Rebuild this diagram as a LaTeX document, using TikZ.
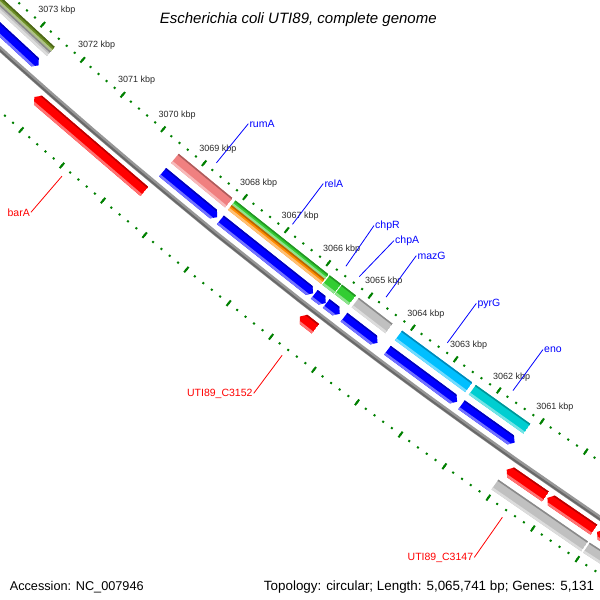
\documentclass[tikz,border=0pt]{standalone}
\usepackage{fontspec}
\setmainfont{Liberation Sans}
\definecolor{tickgreen}{RGB}{0,128,0}
\definecolor{cdsblue}{RGB}{0,0,255}
\definecolor{cdsred}{RGB}{255,0,0}
\definecolor{cogolive}{RGB}{107,142,35}
\definecolor{coggray}{RGB}{192,192,192}
\definecolor{cogpink}{RGB}{240,128,128}
\definecolor{coggreen}{RGB}{50,205,50}
\definecolor{cogorange}{RGB}{255,140,0}
\definecolor{cogsky}{RGB}{0,191,255}
\definecolor{cogteal}{RGB}{0,206,209}
\definecolor{bbgray}{RGB}{150,150,150}
\definecolor{bbdark}{RGB}{105,105,105}
\definecolor{kbpgray}{RGB}{40,40,40}
\tikzstyle{kbplab}=[font=\fontsize{9}{10}\selectfont, text=kbpgray, inner sep=0pt, anchor=base west]
\tikzstyle{revlab}=[font=\fontsize{10.5}{12}\selectfont, text=cdsblue, inner sep=1pt, anchor=base west]
\tikzstyle{fwdlab}=[font=\fontsize{10.5}{12}\selectfont, text=cdsred, inner sep=1pt, anchor=base east]
\tikzstyle{revlead}=[cdsblue, line width=0.8pt]
\tikzstyle{fwdlead}=[cdsred, line width=0.8pt]
\tikzstyle{bigdash}=[tickgreen, line width=2pt]
\tikzstyle{smalldot}=[tickgreen, line width=2pt]
\tikzstyle{infotext}=[inner sep=0pt]
% point on the map: position in kbp, radius in px
\newcommand{\gpos}[2]{({127.912+0.5586*(#1-3066)}:{#2})}
% feature: from, to, inner r, outer r, colour, tip at start, tip at end
\newcommand{\feat}[7]{
  \begin{scope}
    \clip \gpos{#1+#6}{#3} -- \gpos{#2-#7}{#3} -- \gpos{#2}{(#3+#4)/2} -- \gpos{#2-#7}{#4}
      -- \gpos{#1+#6}{#4} -- \gpos{#1}{(#3+#4)/2} -- cycle;
    \fill[#5] \gpos{#1}{#3-1} -- \gpos{#2}{#3-1} -- \gpos{#2}{#4+1} -- \gpos{#1}{#4+1} -- cycle;
    \fill[#5!72!black] \gpos{#1}{#3-1} -- \gpos{#2}{#3-1} -- \gpos{#2}{#3+1.5} -- \gpos{#1}{#3+1.5} -- cycle;
    \fill[#5!55!white] \gpos{#1}{#4-2.5} -- \gpos{#2}{#4-2.5} -- \gpos{#2}{#4+1} -- \gpos{#1}{#4+1} -- cycle;
  \end{scope}
}

\begin{document}
\begin{tikzpicture}[x=1pt, y=-1pt]
  \useasboundingbox (0,0) rectangle (600,600);
  \begin{scope}
    \clip (0,0) rectangle (600,600);
    \begin{scope}[shift={(3679,-4039)}]
      % rulers
      \foreach \i in {0,...,110} {
        \draw[smalldot] \gpos{3055+\i/5}{5452.2} -- \gpos{3055+\i/5}{5454.2};
        \draw[smalldot] \gpos{3055+\i/5}{5545.5} -- \gpos{3055+\i/5}{5547.5};
      }
      \foreach \k in {3055,...,3077} {
        \draw[bigdash] \gpos{\k}{5449.7} -- \gpos{\k}{5456.7};
        \draw[bigdash] \gpos{\k}{5543} -- \gpos{\k}{5550};
      }
      \foreach \k in {3061,...,3073}
        \path \gpos{\k+0.215}{5447.3} node[kbplab] (kbp\k) {\k\ kbp};
      % backbone
      \draw[bbgray, line width=5pt] \gpos{3055}{5500} \foreach \k in {3056,...,3077} { -- \gpos{\k}{5500} };
      \draw[bbdark, line width=2pt] \gpos{3055}{5501} \foreach \k in {3056,...,3077} { -- \gpos{\k}{5501} };
      % COG track
      \feat{3072.55}{3077}{5462}{5468}{cogolive}{0}{0}
      \feat{3072.55}{3077}{5468}{5474}{coggray}{0}{0}
      \feat{3068.17}{3069.48}{5462}{5474}{cogpink}{0}{0}
      \feat{3065.87}{3068.10}{5462}{5468}{coggreen}{0}{0}
      \feat{3065.87}{3068.10}{5468}{5474}{cogorange}{0}{0}
      \feat{3065.57}{3065.84}{5462}{5474}{coggreen}{0}{0}
      \feat{3065.22}{3065.55}{5462}{5474}{coggreen}{0}{0}
      \feat{3064.35}{3065.15}{5462}{5474}{coggray}{0}{0}
      \feat{3062.49}{3064.13}{5462}{5474}{cogsky}{0}{0}
      \feat{3061.15}{3062.41}{5462}{5474}{cogteal}{0}{0}
      % reverse strand
      \feat{3072.55}{3077}{5481}{5492}{cdsblue}{0.09}{0}
      \feat{3068.17}{3069.49}{5481}{5492}{cdsblue}{0.09}{0}
      \feat{3065.88}{3068.09}{5481}{5492}{cdsblue}{0.09}{0}
      \feat{3065.58}{3065.85}{5481}{5492}{cdsblue}{0.09}{0}
      \feat{3065.25}{3065.57}{5481}{5492}{cdsblue}{0.09}{0}
      \feat{3064.36}{3065.15}{5481}{5492}{cdsblue}{0.09}{0}
      \feat{3062.51}{3064.13}{5481}{5492}{cdsblue}{0.09}{0}
      \feat{3061.19}{3062.41}{5481}{5492}{cdsblue}{0.09}{0}
      % forward strand
      \feat{3069.52}{3072.22}{5507}{5519}{cdsred}{0}{0.09}
      \feat{3065.44}{3065.81}{5507}{5519}{cdsred}{0}{0.09}
      \feat{3060.14}{3061.02}{5507}{5519}{cdsred}{0}{0.09}
      \feat{3059.05}{3060.10}{5507}{5519}{cdsred}{0}{0.09}
      \feat{3055}{3058.98}{5507}{5519}{cdsred}{0}{0.09}
      \feat{3059.02}{3061.04}{5526}{5538}{coggray}{0}{0}
      \feat{3055}{3058.98}{5526}{5538}{coggray}{0}{0}
      % leader feet
      \path \gpos{3068.825}{5445} coordinate (rumAp);
      \path \gpos{3066.985}{5445} coordinate (relAp);
      \path \gpos{3065.705}{5445} coordinate (chpRp);
      \path \gpos{3065.385}{5445} coordinate (chpAp);
      \path \gpos{3064.75}{5445} coordinate (mazGp);
      \path \gpos{3063.31}{5445} coordinate (pyrGp);
      \path \gpos{3061.78}{5445} coordinate (enop);
      \path \gpos{3070.87}{5554.5} coordinate (barAp);
      \path \gpos{3065.63}{5554.5} coordinate (cbxp);
      \path \gpos{3060.58}{5554.5} coordinate (cbyp);
    \end{scope}
  \end{scope}

  \node[revlab] (rumA) at (248.3,127.3) {rumA};
  \node[revlab] (relA) at (323.3,187.3) {relA};
  \node[revlab] (chpR) at (374,228.3) {chpR};
  \node[revlab] (chpA) at (394,243.3) {chpA};
  \node[revlab] (mazG) at (416.3,259.3) {mazG};
  \node[revlab] (pyrG) at (476.3,306) {pyrG};
  \node[revlab] (eno) at (543,352.3) {eno};
  \node[fwdlab] (barA) at (31,216) {barA};
  \node[fwdlab] (cbx) at (253.7,396) {UTI89\_C3152};
  \node[fwdlab] (cby) at (474.3,560) {UTI89\_C3147};
  \draw[revlead] (rumAp) -- (rumA.west);
  \draw[revlead] (relAp) -- (relA.west);
  \draw[revlead] (chpRp) -- (chpR.west);
  \draw[revlead] (chpAp) -- (chpA.west);
  \draw[revlead] (mazGp) -- (mazG.west);
  \draw[revlead] (pyrGp) -- (pyrG.west);
  \draw[revlead] (enop) -- (eno.west);
  \draw[fwdlead] (barAp) -- (barA.east);
  \draw[fwdlead] (cbxp) -- (cbx.east);
  \draw[fwdlead] (cbyp) -- (cby.east);

  \node[font=\fontsize{15}{18}\selectfont\itshape, inner sep=0pt, anchor=base] (title) at (298.3,23.3)
    {Escherichia coli UTI89, complete genome};
  \node[infotext, font=\fontsize{12.7}{15}\selectfont, anchor=base west] (acc) at (9.6,590.5)
    {Accession: NC\_007946};
  \node[infotext, font=\fontsize{13.4}{15}\selectfont, anchor=base east] (topo) at (594.2,590.5)
    {Topology: circular; Length: 5,065,741 bp; Genes: 5,131};
\end{tikzpicture}
\end{document}
